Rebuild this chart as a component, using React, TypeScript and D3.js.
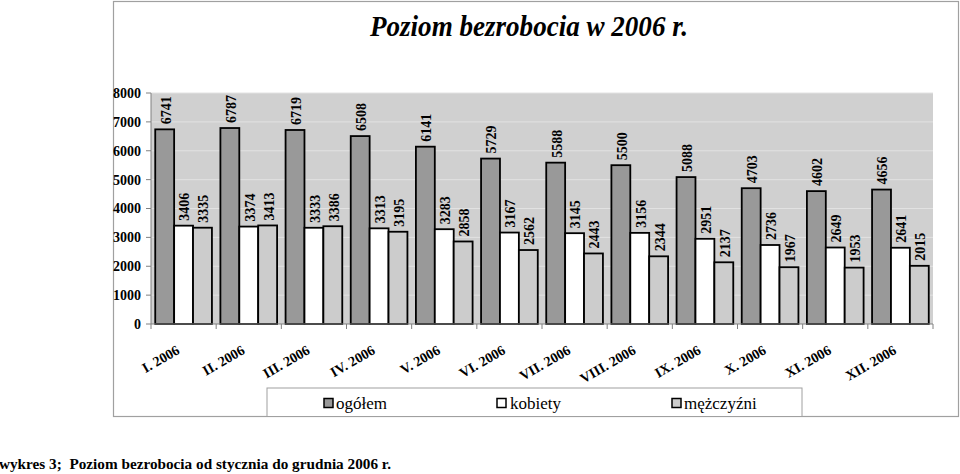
import React from "react";
import * as d3 from "d3";

const months = ["I. 2006","II. 2006","III. 2006","IV. 2006","V. 2006","VI. 2006","VII. 2006","VIII. 2006","IX. 2006","X. 2006","XI. 2006","XII. 2006"];
const ogolem = [6741,6787,6719,6508,6141,5729,5588,5500,5088,4703,4602,4656];
const kobiety = [3406,3374,3333,3313,3283,3167,3145,3156,2951,2736,2649,2641];
const mezczyzni = [3335,3413,3386,3195,2858,2562,2443,2344,2137,1967,1953,2015];
const seriesNames = ["ogółem","kobiety","mężczyźni"];
const yTicks = [0,1000,2000,3000,4000,5000,6000,7000,8000];

const colors = ["#999999","#ffffff","#cccccc"];
const FONT = "Liberation Serif, Times New Roman, serif";
const ts = { fontFamily: FONT };

export default function App() {
  const W = 960, H = 474;
  const left = 151, right = 933, top = 93, bottom = 324;
  const x = d3.scaleBand<string>().domain(months).range([left, right]).paddingInner(0.13).paddingOuter(0.065);
  const x1 = d3.scaleBand<number>().domain([0,1,2]).range([0, x.bandwidth()]);
  const y = d3.scaleLinear().domain([0, 8000]).range([bottom, top]);
  const step = (right - left) / months.length;
  const series = [ogolem, kobiety, mezczyzni];

  const legendItems = [
    { sx: 324, tx: 336 },
    { sx: 497, tx: 510 },
    { sx: 672, tx: 684 },
  ];

  return (
    <svg width={W} height={H} style={{ position: "absolute", left: 0, top: 0, background: "#fff" }}>
      <rect x={113.5} y={1.5} width={845} height={415} fill="#fff" stroke="#a0a0a0" strokeWidth={1.2} />
      <text style={ts} x={529} y={36} textAnchor="middle" fontSize={30} fontWeight="bold" fontStyle="italic" textLength={318} lengthAdjust="spacingAndGlyphs">Poziom bezrobocia w 2006 r.</text>

      <rect x={left} y={top} width={right - left} height={bottom - top} fill="#d0d0d0" />
      {yTicks.filter(t => t > 0).map(t => (
        <line key={t} x1={left} x2={right} y1={y(t)} y2={y(t)} stroke="#e2e2e2" strokeWidth={1} />
      ))}

      {months.map((m, i) => (
        <g key={m}>
          {series.map((s, k) => {
            const bx = (x(m) as number) + (x1(k) as number);
            const bw = x1.bandwidth();
            return (
              <g key={k}>
                <rect x={bx} y={y(s[i])} width={bw} height={bottom - y(s[i])} fill={colors[k]} stroke="#000" strokeWidth={1.8} />
                <text style={ts} transform={`translate(${bx + bw / 2 + 1},${y(s[i]) - 5}) rotate(-90)`} dy="0.35em" fontSize={14} fontWeight="bold">{s[i]}</text>
              </g>
            );
          })}
        </g>
      ))}

      <line x1={left} x2={left} y1={top} y2={bottom} stroke="#808080" strokeWidth={1} />
      <line x1={left} x2={right} y1={bottom} y2={bottom} stroke="#808080" strokeWidth={1} />
      {yTicks.map(t => (
        <g key={t}>
          <line x1={left - 5} x2={left} y1={y(t)} y2={y(t)} stroke="#808080" />
          <text style={ts} x={141} y={y(t)} dy="0.35em" textAnchor="end" fontSize={14} fontWeight="bold">{t}</text>
        </g>
      ))}
      {d3.range(months.length + 1).map(i => (
        <line key={i} x1={left + i * step} x2={left + i * step} y1={bottom} y2={bottom + 5} stroke="#808080" />
      ))}
      {months.map(m => {
        const cx = (x(m) as number) + x.bandwidth() / 2;
        return (
          <text style={ts} key={m} transform={`translate(${cx - 3},353) rotate(-30)`} textAnchor="end" fontSize={14} fontWeight="bold">{m}</text>
        );
      })}

      <rect x={267} y={388} width={535} height={28.5} fill="#fff" stroke="#a0a0a0" strokeWidth={1} />
      {legendItems.map((it, k) => (
        <g key={k}>
          <rect x={it.sx} y={398.5} width={9} height={9} fill={colors[k]} stroke="#000" strokeWidth={1.5} />
          <text style={ts} x={it.tx} y={409} fontSize={17}>{seriesNames[k]}</text>
        </g>
      ))}

      <text x={-1} y={469} fontSize={15} fontWeight="bold" textLength={392} lengthAdjust="spacingAndGlyphs" style={{ fontFamily: FONT, whiteSpace: "pre" }}>wykres 3;  Poziom bezrobocia od stycznia do grudnia 2006 r.</text>
    </svg>
  );
}
